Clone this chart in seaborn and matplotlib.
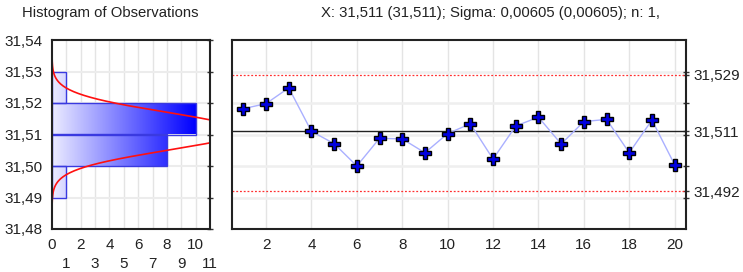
import numpy as np
import pandas as pd
import seaborn as sns
import matplotlib.pyplot as plt
from matplotlib.colors import LinearSegmentedColormap

# observations (sample means), one per subgroup
samples = list(range(1, 21))
values = [31.5182, 31.5198, 31.5248, 31.5110, 31.5071, 31.5000, 31.5088, 31.5086,
          31.5042, 31.5103, 31.5134, 31.5022, 31.5127, 31.5155, 31.5070, 31.5141,
          31.5148, 31.5042, 31.5146, 31.5004]

# histogram of observations
bin_edges = [31.49, 31.50, 31.51, 31.52, 31.53]
bin_counts = [1, 8, 10, 1]

mean_x = 31.511
sigma = 0.00605
ucl = 31.529
cl = 31.511
lcl = 31.492
ctrl_labels = ["31,529", "31,511", "31,492"]

sns.set_style("white")
plt.rcParams["font.family"] = ["Liberation Sans", "DejaVu Sans"]

fig = plt.figure(figsize=(7.43, 2.72), dpi=100)
ax1 = fig.add_axes([52 / 743, 43 / 272, 158 / 743, 189 / 272])
ax2 = fig.add_axes([232 / 743, 43 / 272, 454 / 743, 189 / 272])

grid_c = "#e4e4e4"
fs = 11

# ---- histogram ----
centers = [(a + b) / 2 for a, b in zip(bin_edges[:-1], bin_edges[1:])]
hist_df = pd.DataFrame({"v": centers, "n": bin_counts})
sns.histplot(data=hist_df, y="v", weights="n", bins=bin_edges, ax=ax1,
             color="none", edgecolor="#3a3ae0", linewidth=1.0, alpha=1)

cmap = LinearSegmentedColormap.from_list("bl", ["#ececff", "#0000ff"])
grad = np.linspace(0, 1, 256).reshape(1, -1)
for p in ax1.patches:
    im = ax1.imshow(grad, cmap=cmap, aspect="auto", extent=(0, 10, 31.49, 31.53),
                    origin="lower", zorder=1.5)
    im.set_clip_path(p)
    p.set_facecolor("none")
    p.set_zorder(2)

yy = np.linspace(31.48, 31.54, 400)
scale = sum(bin_counts) * 0.01 / (sigma * np.sqrt(2 * np.pi))
curve = scale * np.exp(-0.5 * ((yy - mean_x) / sigma) ** 2)
ax1.plot(curve, yy, color="#ff1010", lw=1.2, zorder=3)

ax1.set_xlim(0, 11)
ax1.set_ylim(31.48, 31.54)
ax1.set_xticks(range(0, 11, 2))
ax1.set_xticks(range(1, 12, 2), minor=True)
ax1.set_xticklabels([str(i) for i in range(0, 11, 2)])
ax1.set_xticklabels([str(i) for i in range(1, 12, 2)], minor=True)
yt = [31.48, 31.49, 31.50, 31.51, 31.52, 31.53, 31.54]
ax1.set_yticks(yt)
ax1.set_yticklabels([f"{v:.2f}".replace(".", ",") for v in yt])
for v in range(1, 11):
    ax1.axvline(v, color=grid_c, lw=1, zorder=0)
for v in yt[1:-1]:
    ax1.axhline(v, color="#ececec", lw=1.5, zorder=0)
ax1.tick_params(axis="both", which="both", labelsize=fs, direction="inout",
                length=5, width=1, color="#333333", labelcolor="#222222")
ax1.tick_params(axis="x", which="major", pad=4)
ax1.tick_params(axis="x", which="minor", pad=18)
ax1.tick_params(axis="y", right=True, pad=4)
ax1.set_xlabel("")
ax1.set_ylabel("")

# ---- control chart ----
for v in range(2, 21, 2):
    ax2.axvline(v, color=grid_c, lw=1, zorder=0)
for v in yt[1:-1]:
    ax2.axhline(v, color="#efefef", lw=1.8, zorder=0)
ax2.axhline(ucl, color="#ff3030", lw=0.9, ls=(0, (1.5, 1.5)), zorder=1)
ax2.axhline(lcl, color="#ff3030", lw=0.9, ls=(0, (1.5, 1.5)), zorder=1)
ax2.axhline(cl, color="#222222", lw=1.0, zorder=1)

obs = pd.DataFrame({"sample": samples, "x": values})
sns.lineplot(data=obs, x="sample", y="x", ax=ax2, color="#aab0ff", lw=1,
             marker="P", markersize=9, markerfacecolor="#0000e0",
             markeredgecolor="black", markeredgewidth=1, zorder=3)

ax2.set_xlim(0.5, 20.5)
ax2.set_ylim(31.48, 31.54)
ax2.set_xticks(range(2, 21, 2))
ax2.set_yticks(yt[1:-1])
ax2.set_yticklabels([])
ax2.set_yticks([ucl, cl, lcl], minor=True)
ax2.set_yticklabels(ctrl_labels, minor=True)
ax2.yaxis.tick_right()
ax2.tick_params(axis="both", which="both", labelsize=fs, direction="inout",
                length=5, width=1, color="#333333", labelcolor="#222222")
ax2.tick_params(axis="y", which="minor", length=5, pad=3)
ax2.tick_params(axis="x", pad=4)
ax2.set_xlabel("")
ax2.set_ylabel("")

for ax in (ax1, ax2):
    for s in ax.spines.values():
        s.set_color("#222222")
        s.set_linewidth(1.5)
        s.set_zorder(5)

fig.text(22 / 743, 1 - 13.5 / 272, "Histogram of Observations", fontsize=10.7,
         va="center", ha="left", color="#222222")
fig.text(321 / 743, 1 - 13.5 / 272,
         "X: 31,511 (31,511); Sigma: 0,00605 (0,00605); n: 1,", fontsize=10.7,
         va="center", ha="left", color="#222222")

fig.savefig("out.png", dpi=100)
